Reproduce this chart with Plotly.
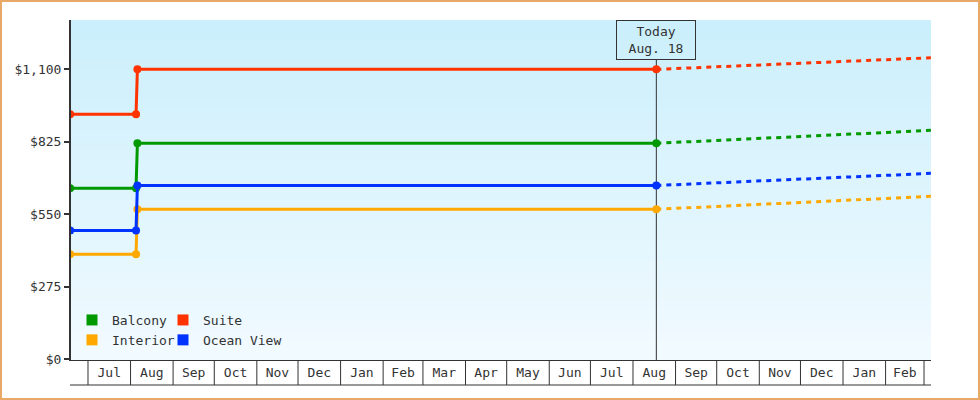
import plotly.graph_objects as go
import pandas as pd

# ---------------- data ----------------
categories = ["Balcony", "Interior", "Suite", "Ocean View"]
history_dates = ["2023-06-18", "2023-08-05", "2023-08-06", "2024-08-18"]
projection_dates = ["2024-08-18", "2025-03-06"]

balcony_hist = [649, 649, 819, 819]
interior_hist = [399, 399, 569, 569]
suite_hist = [929, 929, 1099, 1099]
ocean_hist = [489, 489, 659, 659]

balcony_proj = [819, 868]
interior_proj = [569, 618]
suite_proj = [1099, 1143]
ocean_proj = [659, 705]

y_tick_values = [0, 275, 550, 825, 1100]
y_tick_labels = ["$0", "$275", "$550", "$825", "$1,100"]
today_date = "2024-08-18"
today_label = "Today<br>Aug. 18"
x_range = ["2023-06-18 15:00", "2025-03-06 02:00"]
month_starts = pd.date_range("2023-07-01", "2025-03-01", freq="MS")

colors = {
    "Balcony": "#009900",
    "Interior": "#ffa800",
    "Suite": "#ff3300",
    "Ocean View": "#0033ff",
}
hist = {"Balcony": balcony_hist, "Interior": interior_hist,
        "Suite": suite_hist, "Ocean View": ocean_hist}
proj = {"Balcony": balcony_proj, "Interior": interior_proj,
        "Suite": suite_proj, "Ocean View": ocean_proj}

FONT = "DejaVu Sans Mono"
INK = "#333333"

# plot-area geometry (px)
W, H = 980, 400
ML, MR, MT, MB = 71, 49, 20, 40
PW, PH = W - ML - MR, H - MT - MB

fig = go.Figure()

draw_order = ["Interior", "Balcony", "Ocean View", "Suite"]
for name in draw_order:
    fig.add_trace(go.Scatter(
        x=projection_dates, y=proj[name], mode="lines",
        line=dict(color=colors[name], width=3, dash="5px,5px"),
        showlegend=False, hoverinfo="skip"))
for name in draw_order:
    fig.add_trace(go.Scatter(
        x=history_dates, y=hist[name], mode="lines+markers",
        line=dict(color=colors[name], width=3),
        marker=dict(color=colors[name], size=8, symbol="circle"),
        showlegend=False))

# legend entries (square swatches), two columns
legend_cols = {"legend": ["Balcony", "Interior"], "legend2": ["Suite", "Ocean View"]}
for lg, names in legend_cols.items():
    for name in names:
        fig.add_trace(go.Scatter(
            x=[None], y=[None], mode="markers", name=name, legend=lg,
            marker=dict(color=colors[name], size=11, symbol="square"),
            showlegend=True))

shapes = []
# gradient background of the plot area
n_bands = 34
top_rgb = (203, 239, 252)
bot_rgb = (241, 250, 255)
for i in range(n_bands):
    t = i / (n_bands - 1)
    c = tuple(round(top_rgb[k] + (bot_rgb[k] - top_rgb[k]) * t) for k in range(3))
    shapes.append(dict(type="rect", xref="paper", yref="paper",
                       x0=0, x1=1, y0=1 - (i + 1) / n_bands, y1=1 - i / n_bands,
                       fillcolor="rgb(%d,%d,%d)" % c, line=dict(width=0),
                       layer="below"))
# today line
box_h = 40
shapes.append(dict(type="line", xref="x", yref="paper",
                   x0=today_date, x1=today_date, y0=0, y1=1 - box_h / PH,
                   line=dict(color=INK, width=1), layer="below"))
# month separators below the axis
sep = -25 / PH
for d in month_starts:
    shapes.append(dict(type="line", xref="x", yref="paper",
                       x0=d, x1=d, y0=0, y1=sep,
                       line=dict(color=INK, width=1)))
shapes.append(dict(type="line", xref="paper", yref="paper",
                   x0=-1 / PW, x1=1, y0=sep, y1=sep,
                   line=dict(color=INK, width=1)))
# outer border
shapes.append(dict(type="rect", xref="paper", yref="paper",
                   x0=(1 - ML) / PW, x1=(W - 1 - ML) / PW,
                   y0=(MT + PH - (H - 1)) / PH, y1=(MT + PH - 1) / PH,
                   line=dict(color="#e8a868", width=2), fillcolor="rgba(0,0,0,0)"))

fig.update_layout(
    width=W, height=H,
    margin=dict(l=ML, r=MR, t=MT, b=MB),
    paper_bgcolor="white", plot_bgcolor="rgba(0,0,0,0)",
    font=dict(family=FONT, size=13, color=INK),
    shapes=shapes,
    annotations=[dict(x=today_date, y=1, xref="x", yref="paper",
                      text=today_label, showarrow=False,
                      xanchor="center", yanchor="top",
                      width=78, height=38, borderpad=0,
                      bordercolor=INK, borderwidth=1,
                      bgcolor="rgba(0,0,0,0)",
                      font=dict(family=FONT, size=13, color=INK))],
    xaxis=dict(type="date", range=x_range, tick0="2023-07-01", dtick="M1",
               tickformat="%b", ticklabelmode="period", ticks="",
               showgrid=False, zeroline=False, showline=True,
               linecolor=INK, linewidth=1,
               tickfont=dict(family=FONT, size=13, color=INK)),
    yaxis=dict(range=[-2, 1286], tickvals=y_tick_values, ticktext=y_tick_labels,
               ticks="outside", ticklen=5, tickwidth=2,
               tickcolor=INK, showline=True, linecolor=INK, linewidth=2,
               showgrid=False, zeroline=False,
               tickfont=dict(family=FONT, size=13, color=INK)),
    legend=dict(x=(72 - ML) / PW, y=(360 - 305) / PH, xanchor="left",
                yanchor="top", bgcolor="rgba(0,0,0,0)", borderwidth=0,
                tracegroupgap=0, font=dict(family=FONT, size=13, color=INK)),
    legend2=dict(x=(163 - ML) / PW, y=(360 - 305) / PH, xanchor="left",
                 yanchor="top", bgcolor="rgba(0,0,0,0)", borderwidth=0,
                 tracegroupgap=0, font=dict(family=FONT, size=13, color=INK)),
)

fig.write_html("out.html",
               config={"displayModeBar": False},
               post_script="document.body.style.margin='0';document.body.style.padding='0';")
